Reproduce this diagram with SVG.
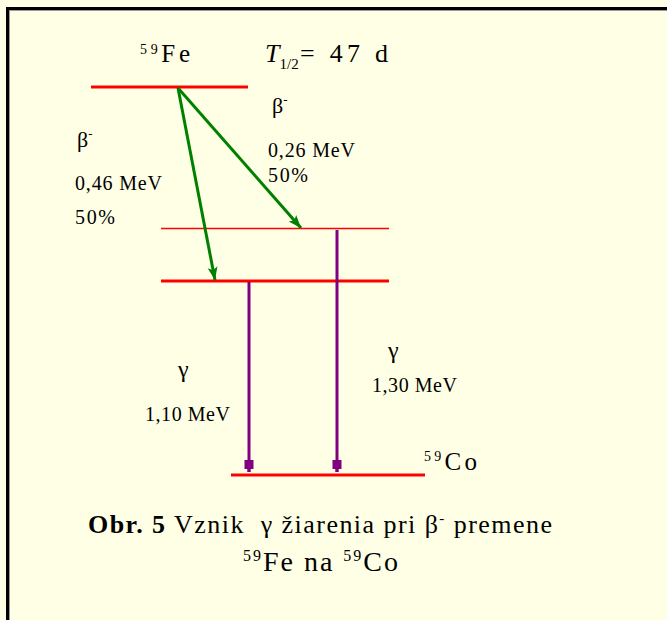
<svg xmlns="http://www.w3.org/2000/svg" width="667" height="620" viewBox="0 0 667 620">
<style>
text{font-family:"Liberation Serif","Times New Roman",serif;fill:#000}
.lv{stroke:#ff0000;stroke-width:3}
.thin{stroke:#ff0000;stroke-width:1.5}
.b{stroke:#008000;stroke-width:3}
.g{stroke:#800080;stroke-width:3}
.sm{font-size:20px}
.md{font-size:25px}
.cap{font-size:26px}
</style>
<defs>
<marker id="ag" viewBox="-14 -6 15 12" markerWidth="15" markerHeight="12" refX="0" refY="0" orient="auto" markerUnits="userSpaceOnUse">
<path d="M0,0 L-13,-5 L-10,0 L-13,5 Z" fill="#008000"/>
</marker>
<marker id="ap" viewBox="-13 -5 14 10" markerWidth="14" markerHeight="10" refX="0" refY="0" orient="auto" markerUnits="userSpaceOnUse">
<path d="M-12,-4.5 L-3,-4.5 L-3,-1.5 L0,-1.5 L0,1.5 L-3,1.5 L-3,4.5 L-12,4.5 Z" fill="#800080"/>
</marker>
</defs>
<rect width="667" height="620" fill="#ffffe6"/>
<line x1="6" y1="8.5" x2="667" y2="8.5" stroke="#000" stroke-width="3"/>
<line x1="7.5" y1="8" x2="7.5" y2="620" stroke="#000" stroke-width="3"/>
<line x1="9" y1="10.5" x2="667" y2="10.5" stroke="#999" stroke-width="1"/>
<line x1="9.5" y1="10" x2="9.5" y2="620" stroke="#999" stroke-width="1"/>
<g id="lvl-fe"><line class="lv" x1="91" y1="87" x2="248" y2="87"/></g>
<g id="lvl-mid"><line class="thin" x1="161" y1="228.5" x2="389" y2="228.5"/></g>
<g id="lvl-low"><line class="lv" x1="161" y1="281" x2="389" y2="281"/></g>
<g id="lvl-co"><line class="lv" x1="231" y1="475" x2="425" y2="475"/></g>
<g id="connectors">
<line class="b" x1="178" y1="88" x2="215" y2="280" marker-end="url(#ag)"/>
<line class="b" x1="178" y1="88" x2="301" y2="228" marker-end="url(#ag)"/>
<line class="g" x1="249" y1="282" x2="249" y2="472" marker-end="url(#ap)"/>
<line class="g" x1="337" y1="230" x2="337" y2="472" marker-end="url(#ap)"/>
</g>
<g id="labels">
<text x="140" y="62" class="md" textLength="50"><tspan font-size="14" dy="-8">59</tspan><tspan dy="8">Fe</tspan></text>
<text x="265" y="62" class="md"><tspan font-style="italic" font-size="26">T</tspan><tspan font-size="15" dy="7">1/2</tspan></text>
<text x="300" y="62" font-size="26" textLength="88">= 47 d</text>
<text x="272" y="113" font-size="22">β<tspan font-size="13" dy="-9">-</tspan></text>
<text x="77" y="147" font-size="22">β<tspan font-size="13" dy="-9">-</tspan></text>
<text x="75" y="190" class="sm" textLength="87">0,46 MeV</text>
<text x="75" y="224" class="sm" textLength="40">50%</text>
<text x="268" y="157" class="sm" textLength="87">0,26 MeV</text>
<text x="268" y="182" class="sm" textLength="40">50%</text>
<text x="178" y="377" font-size="24">γ</text>
<text x="145" y="421" class="sm" textLength="85">1,10 MeV</text>
<text x="388" y="358" font-size="24">γ</text>
<text x="372" y="392" class="sm" textLength="85">1,30 MeV</text>
<text x="424" y="470" class="md" textLength="53"><tspan font-size="14" dy="-9">59</tspan><tspan dy="9">Co</tspan></text>
<text x="88" y="533" class="cap" textLength="464" xml:space="preserve"><tspan font-weight="bold">Obr. 5</tspan> Vznik  γ žiarenia pri β<tspan font-size="15" dy="-10">-</tspan><tspan dy="10"> premene</tspan></text>
<text x="243" y="571" font-size="28" textLength="155" xml:space="preserve"><tspan font-size="16" dy="-10">59</tspan><tspan dy="10">Fe na </tspan><tspan font-size="16" dy="-10">59</tspan><tspan dy="10">Co</tspan></text>
</g>
</svg>
